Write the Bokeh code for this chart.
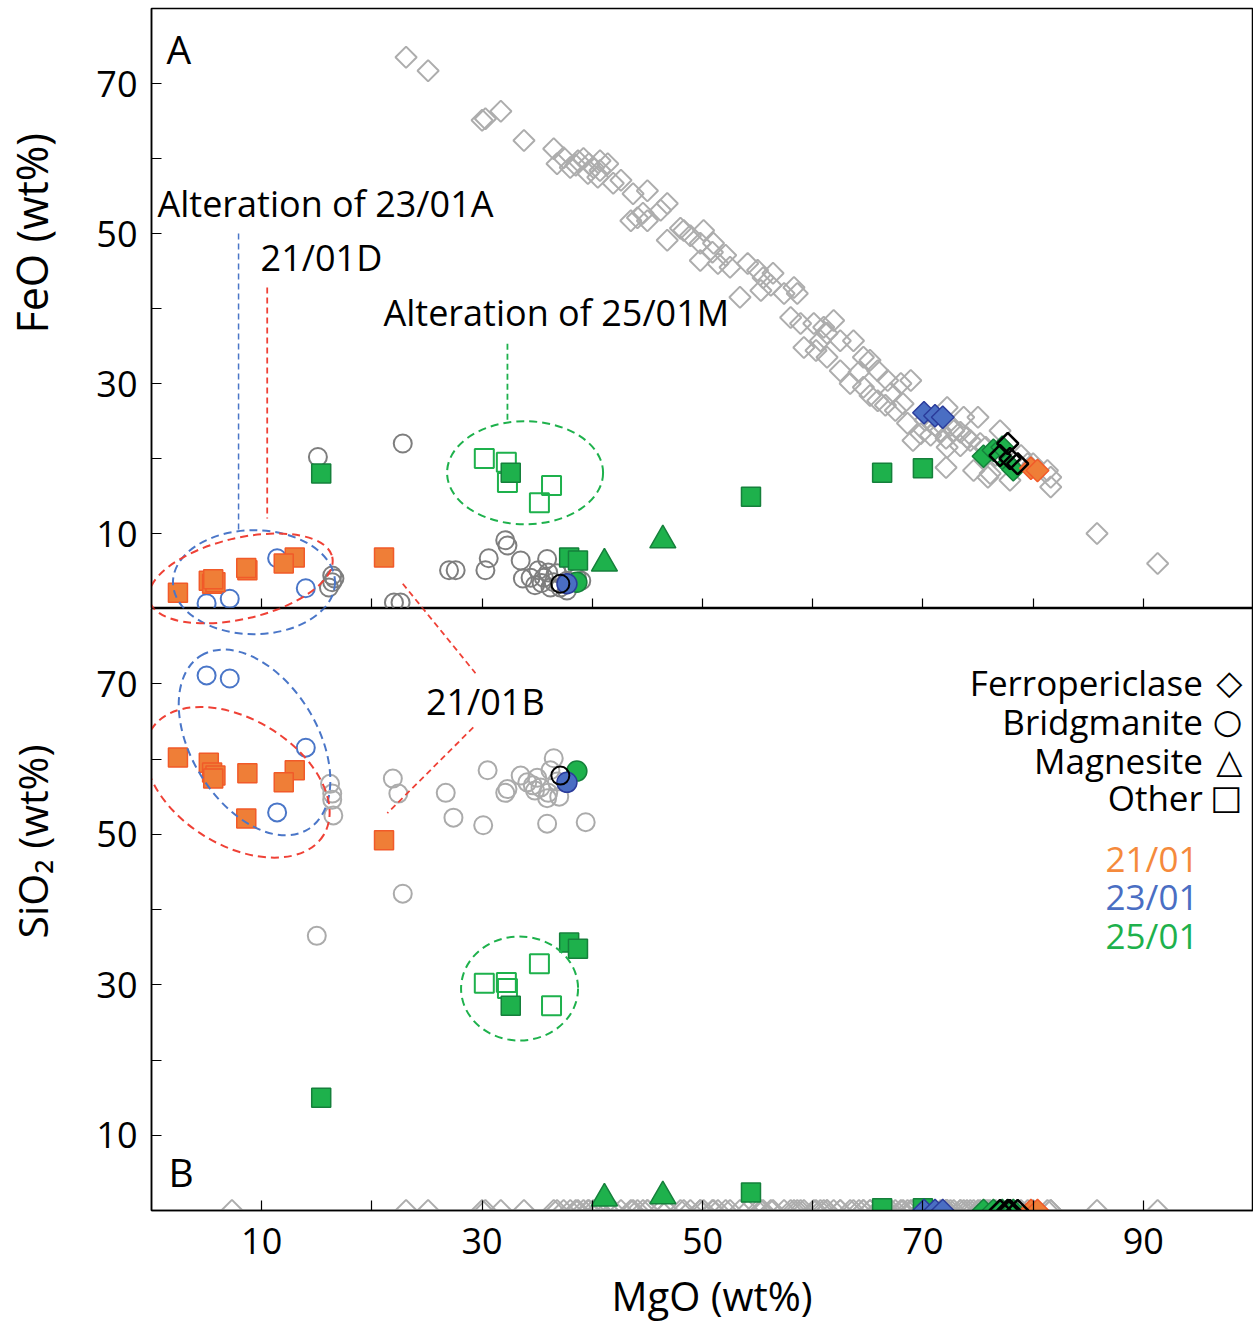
import numpy as np
from bokeh.plotting import figure
from bokeh.layouts import column, row
from bokeh.models import Range1d, FixedTicker, Label
from bokeh.embed import file_html
from bokeh.resources import INLINE

FONT = "Open Sans"

# ---------------------------------------------------------------- data (wt%)
# Ferropericlase, all other samples (grey open diamonds)
fp_grey_mgo = [7.3, 23.1, 25.1, 30.0, 30.3, 31.7, 33.8, 36.5, 36.8, 37.4,
               38.0, 38.7, 39.2, 39.7, 40.1, 40.7, 41.4, 41.9, 40.5, 39.6,
               38.5, 40.7, 42.6, 43.7, 45.0, 46.8, 44.1, 44.6, 45.0, 43.5,
               46.2, 46.8, 48.3, 48.9, 50.1, 49.8, 51.0, 48.0, 49.8, 51.4,
               52.5, 54.1, 55.0, 55.5, 56.4, 53.4, 58.3, 57.4, 58.6, 56.2,
               55.3, 52.1, 50.9, 58.0, 58.9, 60.1, 61.0, 61.9, 61.3, 62.5,
               59.2, 61.3, 62.5, 63.7, 64.6, 65.9, 66.8, 68.0, 68.9, 64.6,
               65.9, 67.1, 68.2, 68.6, 69.8, 69.1, 72.2, 71.6, 72.2, 73.7,
               75.0, 72.8, 74.0, 75.2, 77.0, 80.0, 81.3, 81.6, 74.6, 75.9,
               72.1, 76.1, 77.9, 79.5, 85.8, 91.3, 65.2, 66.6, 67.5, 70.2,
               71.1, 72.5, 73.4, 74.3, 75.7, 76.6, 73.4, 72.1, 70.7, 78.9,
               63.4, 64.2, 65.2, 60.7, 60.3, 81.6]
fp_grey_feo = [90.0, 73.5, 71.7, 65.1, 65.3, 66.3, 62.4, 61.3, 59.3, 60.1,
               58.8, 59.7, 60.0, 59.3, 58.8, 58.4, 59.3, 56.7, 57.5, 58.0,
               59.1, 59.7, 57.1, 55.3, 55.7, 54.0, 52.1, 52.7, 51.7, 51.7,
               53.1, 49.1, 50.4, 49.7, 50.4, 48.7, 48.7, 50.7, 46.4, 46.0,
               45.5, 46.0, 45.1, 44.1, 44.7, 41.5, 42.8, 42.0, 42.0, 43.1,
               42.4, 47.1, 47.5, 38.8, 38.0, 38.0, 37.5, 38.4, 36.7, 35.7,
               34.8, 33.5, 31.7, 35.7, 33.5, 31.7, 30.4, 30.0, 30.4, 29.5,
               27.7, 28.7, 27.3, 24.7, 23.3, 22.4, 26.8, 23.7, 21.5, 25.5,
               25.5, 23.7, 22.8, 22.0, 23.7, 19.3, 18.4, 17.5, 18.4, 17.5,
               18.8, 18.0, 17.1, 19.3, 10.0, 6.0, 28.4, 27.1, 26.4, 25.1,
               24.4, 24.4, 23.5, 22.4, 21.5, 20.4, 21.7, 22.7, 23.1, 20.4,
               30.0, 31.5, 33.1, 35.7, 34.4, 16.2]
fp_grey_sio2 = [0.0] * len(fp_grey_mgo)  # ferropericlase analyses all plot at SiO2 = 0

# Ferropericlase of the three samples
fp_2101_mgo, fp_2101_feo, fp_2101_sio2 = [79.8, 80.4], [18.7, 18.4], [0.0, 0.0]
fp_2301_mgo, fp_2301_feo, fp_2301_sio2 = [70.1, 71.1, 71.8], [26.1, 25.7, 25.5], [0.0, 0.0, 0.0]
fp_2501_mgo = [75.5, 76.4, 77.2, 77.7, 78.2]
fp_2501_feo = [20.3, 21.1, 21.5, 19.3, 18.5]
fp_2501_sio2 = [0.0, 0.0, 0.0, 0.0, 0.0]
fp_black_mgo = [77.7, 77.0, 77.9, 78.6]
fp_black_feo = [22.0, 20.4, 20.0, 19.3]
fp_black_sio2 = [0.0, 0.0, 0.0, 0.0]

# Bridgmanite, other samples (grey open circles) - panel A
bdg_grey_mgo_a = [15.1, 22.8, 16.4, 16.4, 16.6, 16.1, 22.0, 22.6, 27.0, 27.6,
                  30.6, 30.3, 32.1, 32.3, 33.5, 33.7, 34.4, 35.1, 35.9, 35.6,
                  36.5, 36.8, 37.1, 36.2, 37.7, 38.3, 38.6, 39.0, 37.7, 34.8,
                  35.4, 36.0]
bdg_grey_feo = [20.2, 22.0, 4.4, 3.5, 4.0, 2.8, 0.8, 0.8, 5.1, 5.1,
                6.7, 5.1, 9.1, 8.4, 6.4, 4.0, 4.1, 5.1, 6.6, 4.1,
                3.5, 4.7, 2.8, 2.8, 3.7, 5.5, 4.1, 3.7, 2.4, 3.1,
                3.4, 4.8]
# Bridgmanite, other samples - panel B
bdg_grey_mgo_b = [15.0, 22.8, 16.2, 16.4, 16.4, 16.5, 21.9, 22.4, 26.7, 27.4,
                  30.1, 30.5, 32.1, 32.3, 33.5, 34.1, 34.6, 35.0, 35.3, 35.9,
                  35.9, 36.5, 36.2, 36.8, 37.0, 36.0, 39.4, 34.8]
bdg_grey_sio2 = [36.5, 42.1, 56.7, 55.4, 54.6, 52.5, 57.4, 55.4, 55.5, 52.2,
                 51.2, 58.5, 55.5, 56.0, 57.8, 56.9, 56.5, 57.5, 56.2, 54.8,
                 51.4, 60.1, 58.5, 57.0, 55.0, 55.5, 51.6, 55.8]

# Bridgmanite, alteration of 23/01A (blue open circles)
bdg_alt_mgo = [5.0, 7.1, 11.4, 14.0]
bdg_alt_feo = [0.7, 1.3, 6.7, 2.7]
bdg_alt_sio2 = [71.1, 70.7, 52.9, 61.5]

# Bridgmanite of the samples (filled circles)
bdg_2301_mgo, bdg_2301_feo, bdg_2301_sio2 = [37.7], [3.3], [56.9]
bdg_2501_mgo, bdg_2501_feo, bdg_2501_sio2 = [38.6], [3.5], [58.4]
bdg_black_mgo, bdg_black_feo, bdg_black_sio2 = [37.1], [3.3], [57.8]

# Magnesite, 25/01 (triangles)
mag_2501_mgo = [41.1, 46.4]
mag_2501_feo = [6.0, 9.1]
mag_2501_sio2 = [1.6, 1.9]

# Other phases (squares)
oth_2101_mgo = [2.4, 5.2, 5.5, 5.8, 5.6, 8.7, 13.0, 12.0, 8.6, 21.1]
oth_2101_feo = [2.1, 3.7, 3.3, 3.5, 3.9, 5.1, 6.8, 6.0, 5.4, 6.8]
oth_2101_sio2 = [60.2, 59.5, 58.2, 57.8, 57.4, 58.1, 58.5, 56.9, 52.1, 49.2]
oth_2501_mgo = [15.4, 32.6, 37.9, 38.7, 54.4, 66.3, 70.0]
oth_2501_feo = [18.0, 18.1, 6.8, 6.4, 14.9, 18.1, 18.7]
oth_2501_sio2 = [15.0, 27.2, 35.6, 34.8, 2.4, 0.3, 0.3]
oth_alt_mgo = [30.2, 32.2, 32.3, 35.2, 36.3]       # alteration of 25/01M (open)
oth_alt_feo = [20.0, 19.5, 16.8, 14.1, 16.4]
oth_alt_sio2 = [30.2, 30.3, 29.5, 32.8, 27.2]

x_ticks = [10, 30, 50, 70, 90]
x_minor = [20, 40, 60, 80]
y_ticks = [10, 30, 50, 70]
y_minor = [20, 40, 60]

# ---------------------------------------------------------------- colours
GREY_D = "#ADADAD"
GREY_C_A = "#7E7E7E"
GREY_C_B = "#ABABAB"
ORANGE = "#EF7E37"
ORANGE_LINE = "#F15A29"
BLUE = "#4A6EC3"
BLUE_LINE = "#2B3C9B"
BLUE_OPEN = "#4A76C8"
GREEN = "#1EB14C"
GREEN_LINE = "#15803B"
RED_DASH = "#EF4136"
DASH = "8 5"
DASH2 = "6 4"

# ---------------------------------------------------------------- layout sizes (px)
W, H = 1253, 1323
TITLE_W = 60          # strip on the left holding the y-axis titles
AXIS_W = 91           # tick-label border left of the frames
FRAME_W = 1102
TOP_BORDER = 8
FRAME_A_H, FRAME_B_H = 600, 602
TICKLAB_H = 57
XTITLE_H = H - TOP_BORDER - FRAME_A_H - FRAME_B_H - TICKLAB_H


def make_fig(frame_height, top, bottom):
    f = figure(frame_width=FRAME_W, frame_height=frame_height,
               min_border_left=AXIS_W, min_border_right=0, min_border_top=top, min_border_bottom=bottom,
               x_range=Range1d(0, 100), y_range=Range1d(0, 80),
               output_backend="svg", toolbar_location=None,
               background_fill_color="white", border_fill_color="white")
    f.xgrid.visible = False
    f.ygrid.visible = False
    f.outline_line_color = "black"
    f.outline_line_width = 1.5
    f.xaxis.ticker = FixedTicker(ticks=x_ticks, minor_ticks=x_minor)
    f.yaxis.ticker = FixedTicker(ticks=y_ticks, minor_ticks=y_minor)
    for ax in (f.xaxis[0], f.yaxis[0]):
        ax.axis_line_color = "black"
        ax.axis_line_width = 1.5
        ax.major_tick_in = 10
        ax.major_tick_out = 0
        ax.minor_tick_in = 10
        ax.minor_tick_out = 0
        ax.major_tick_line_color = "black"
        ax.minor_tick_line_color = "black"
        ax.major_tick_line_width = 1.2
        ax.minor_tick_line_width = 1.2
        ax.major_label_text_font = FONT
        ax.major_label_text_font_size = "36px"
        ax.major_label_text_color = "black"
    f.yaxis.major_label_standoff = 14
    return f


def text_strip(frame_w, frame_h, left=0):
    f = figure(frame_width=frame_w, frame_height=frame_h,
               x_range=Range1d(0, frame_w), y_range=Range1d(0, frame_h),
               min_border=0, min_border_left=left, x_axis_location=None, y_axis_location=None,
               output_backend="svg", toolbar_location=None, outline_line_color=None,
               background_fill_color="white", border_fill_color="white")
    f.xgrid.visible = False
    f.ygrid.visible = False
    return f


pa = make_fig(FRAME_A_H, TOP_BORDER, 0)      # panel A: FeO vs MgO
pb = make_fig(FRAME_B_H, 0, TICKLAB_H)       # panel B: SiO2 vs MgO

# panel A has unlabelled x ticks along its lower edge
pa.xaxis.major_label_text_font_size = "0px"
pa.xaxis.major_label_standoff = 0
pa.xaxis.major_label_overrides = {t: "" for t in x_ticks}
pb.xaxis.major_label_standoff = 17


def draw(f, mgo, val, **kw):
    f.scatter(mgo, val, **kw)


for f, sel in ((pa, 0), (pb, 1)):
    def pick(a, b):
        return a if sel == 0 else b
    # grey ferropericlase
    draw(f, fp_grey_mgo, pick(fp_grey_feo, fp_grey_sio2), marker="square", angle=np.pi / 4, size=15,
         fill_color=None, line_color=GREY_D, line_width=2)
    # grey bridgmanite
    if sel == 0:
        draw(f, bdg_grey_mgo_a, bdg_grey_feo, marker="circle", size=18, fill_color=None,
             line_color=GREY_C_A, line_width=2)
    else:
        draw(f, bdg_grey_mgo_b, bdg_grey_sio2, marker="circle", size=18, fill_color=None,
             line_color=GREY_C_B, line_width=2)
    draw(f, bdg_alt_mgo, pick(bdg_alt_feo, bdg_alt_sio2), marker="circle", size=18,
         fill_color=None, line_color=BLUE_OPEN, line_width=2)
    draw(f, oth_2101_mgo, pick(oth_2101_feo, oth_2101_sio2), marker="square", size=19,
         fill_color=ORANGE, line_color=ORANGE_LINE, line_width=1.5)
    draw(f, oth_alt_mgo, pick(oth_alt_feo, oth_alt_sio2), marker="square", size=19,
         fill_color=None, line_color=GREEN, line_width=2)
    draw(f, oth_2501_mgo, pick(oth_2501_feo, oth_2501_sio2), marker="square", size=19,
         fill_color=GREEN, line_color=GREEN_LINE, line_width=1.5)
    draw(f, mag_2501_mgo, pick(mag_2501_feo, mag_2501_sio2), marker="triangle", size=26,
         fill_color=GREEN, line_color=GREEN_LINE, line_width=1.5)
    for mg, fe, si, fc, lc in [(fp_2301_mgo, fp_2301_feo, fp_2301_sio2, BLUE, BLUE_LINE),
                               (fp_2501_mgo, fp_2501_feo, fp_2501_sio2, GREEN, GREEN_LINE),
                               (fp_2101_mgo, fp_2101_feo, fp_2101_sio2, ORANGE, ORANGE_LINE)]:
        draw(f, mg, pick(fe, si), marker="square", angle=np.pi / 4, size=16,
             fill_color=fc, line_color=lc, line_width=1.5)
    draw(f, fp_black_mgo, pick(fp_black_feo, fp_black_sio2), marker="square", angle=np.pi / 4,
         size=15, fill_color=None, line_color="black", line_width=2.5)
    draw(f, bdg_2501_mgo, pick(bdg_2501_feo, bdg_2501_sio2), marker="circle", size=20,
         fill_color=GREEN, line_color=GREEN_LINE, line_width=1.5)
    draw(f, bdg_2301_mgo, pick(bdg_2301_feo, bdg_2301_sio2), marker="circle", size=20,
         fill_color=BLUE, line_color=BLUE_LINE, line_width=1.5)
    draw(f, bdg_black_mgo, pick(bdg_black_feo, bdg_black_sio2), marker="circle", size=18,
         fill_color=None, line_color="black", line_width=2)

# ---------------------------------------------------------------- annotations
# outlines drawn around groups; panel-A outlines that spill over the panel edge
# are continued in panel B (panel A's 0 coincides with panel B's 80)
A2B = 80
ell_kw = dict(width_units="screen", height_units="screen", fill_color=None, line_width=2, line_dash=DASH)
for f, dy in ((pa, 0), (pb, A2B)):
    f.ellipse(x=[9.3], y=[3.5 + dy], width=[162], height=[104], angle=0, line_color=BLUE_OPEN, **ell_kw)
    f.ellipse(x=[8.1], y=[4.0 + dy], width=[188], height=[81], angle=0.233, line_color=RED_DASH, **ell_kw)
    f.segment(x0=[22.8], y0=[3.3 + dy], x1=[29.4], y1=[-8.6 + dy], line_color=RED_DASH,
              line_dash=DASH2, line_width=1.8)
pa.ellipse(x=[33.9], y=[18.1], width=[156], height=[103], angle=0, line_color=GREEN, **ell_kw)
pa.segment(x0=[7.9], y0=[50.0], x1=[7.9], y1=[10.3], line_color=BLUE_OPEN, line_dash=DASH2, line_width=1.5)
pa.segment(x0=[10.5], y0=[42.8], x1=[10.5], y1=[12.0], line_color=RED_DASH, line_dash=DASH2, line_width=1.8)
pa.segment(x0=[32.3], y0=[35.3], x1=[32.3], y1=[25.1], line_color=GREEN, line_dash=DASH2, line_width=1.8)

pb.ellipse(x=[33.4], y=[29.5], width=[117], height=[104], angle=0, line_color=GREEN, **ell_kw)
pb.ellipse(x=[9.35], y=[62.2], width=[204], height=[126], angle=2.124, line_color=BLUE_OPEN, **ell_kw)
pb.ellipse(x=[7.8], y=[56.9], width=[202], height=[126], angle=-0.55, line_color=RED_DASH, **ell_kw)
pb.segment(x0=[29.2], y0=[64.2], x1=[21.4], y1=[52.8], line_color=RED_DASH, line_dash=DASH2, line_width=1.8)


def lab(f, x, y, text, size="36px", color="black", align="left", font=FONT, style="normal", angle=0):
    f.add_layout(Label(x=x, y=y, text=text, text_font=font, text_font_size=size, text_font_style=style,
                       text_color=color, text_align=align, text_baseline="alphabetic", angle=angle))


lab(pa, 1.36, 74.7, "A", size="39px")
lab(pa, 0.54, 54.0, "Alteration of 23/01A")
lab(pa, 9.9, 46.8, "21/01D")
lab(pa, 21.05, 39.5, "Alteration of 25/01M")
lab(pb, 1.54, 5.2, "B", size="39px")
lab(pb, 24.9, 67.6, "21/01B")

legend_names = ["Ferropericlase", "Bridgmanite", "Magnesite", "Other"]
legend_syms = ["\u25C7", "\u25CB", "\u25B3", "\u25A1"]
legend_base = [70.2, 65.0, 59.8, 54.9]
for name, sym, yb in zip(legend_names, legend_syms, legend_base):
    lab(pb, 95.4, yb, name, size="35px", align="right")
    lab(pb, 99.0, yb, sym, size="34px", align="right", font="DejaVu Sans", style="bold")

sample_names = ["21/01", "23/01", "25/01"]
sample_colors = ["#F58A3C", BLUE, GREEN]
sample_base = [46.8, 41.7, 36.5]
for name, col, yb in zip(sample_names, sample_colors, sample_base):
    lab(pb, 95.0, yb, name, size="35px", color=col, align="right")

# ---------------------------------------------------------------- axis titles
ytitles = text_strip(TITLE_W, H)
lab(ytitles, 31, H - 333, "FeO (wt%)", size="43px", angle=np.pi / 2)
lab(ytitles, 31, H - 938, "SiO\u2082 (wt%)", size="41px", angle=np.pi / 2)

xtitle = text_strip(FRAME_W, XTITLE_H, left=AXIS_W)
lab(xtitle, 612 - (TITLE_W + AXIS_W) - 1, H - 1295, "MgO (wt%)", size="40px")

layout = row(ytitles, column(pa, pb, xtitle, spacing=0), spacing=0)
open("out.html", "w").write(file_html(layout, INLINE))
